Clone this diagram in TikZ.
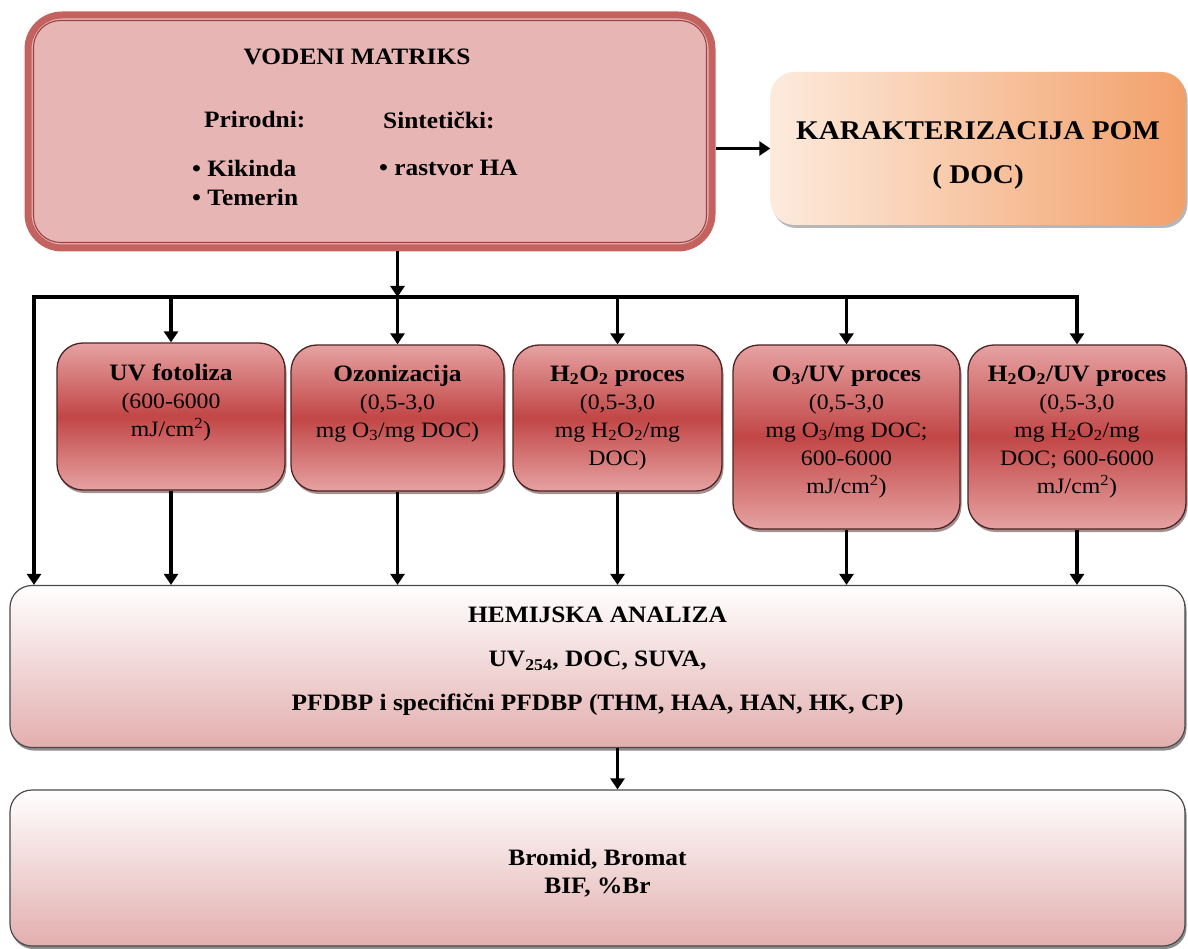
\documentclass[tikz,border=0pt]{standalone}
\usepackage{fontspec}
\setmainfont[FakeStretch=1.08]{Liberation Serif}
\usetikzlibrary{arrows.meta,shadows,calc}

\definecolor{vodfill}{HTML}{E8B5B5}
\definecolor{vodrim}{HTML}{C4625F}
\definecolor{vodline}{HTML}{9A4242}
\definecolor{procdark}{HTML}{C24646}
\definecolor{proclight}{HTML}{E6A2A2}
\definecolor{procedge}{HTML}{4E2424}
\definecolor{anapink}{HTML}{E3AEAE}
\definecolor{anaedge}{HTML}{4A4A4A}
\definecolor{peachL}{HTML}{FDEBDD}
\definecolor{peachR}{HTML}{F2A06A}

\begin{document}
\begin{tikzpicture}[x=1pt,y=-1pt,
  tip/.tip={Triangle[length=11pt,width=14pt]},
  arr/.style={line width=3.6pt,-tip},
  twoarr/.style={line width=3.6pt,tip-tip},
  procbox/.style={draw=procedge,line width=1.3pt,rounded corners=26pt,
    top color=proclight,bottom color=proclight,middle color=procdark,
    drop shadow={shadow xshift=1.5pt,shadow yshift=-3pt,opacity=0.5,fill=procedge}},
  anabox/.style={draw=anaedge,line width=1.2pt,rounded corners=22pt,
    top color=white,bottom color=anapink,
    drop shadow={shadow xshift=1.5pt,shadow yshift=-3pt,opacity=0.45,fill=black}},
  txt/.style={align=center,inner sep=0pt,font=\fontsize{22}{28}\selectfont},
  btxt/.style={align=center,inner sep=0pt,font=\fontsize{23.5}{44}\selectfont\bfseries}
]
\fill[white] (0,0) rectangle (1188,949);
\useasboundingbox (0,0) rectangle (1188,949);

% source water matrix
\node[draw=vodrim,line width=7pt,fill=vodfill,rounded corners=34pt,
      minimum width=684pt,minimum height=233pt] (vod) at (370,131.5) {};
\draw[vodline,line width=1.1pt,rounded corners=27pt]
  ($(vod.south west)+(9,-9)$) rectangle ($(vod.north east)+(-9,9)$);
\node[btxt] (vodt) at (357,57) {VODENI MATRIKS};
\node[btxt,anchor=west] (prir) at (204,120) {Prirodni:};
\node[btxt,anchor=west] (sint) at (383,120) {Sintetički:};
\node[btxt,anchor=west,align=left,font=\fontsize{23.5}{29}\selectfont\bfseries]
  (prirl) at (192,182.5) {• Kikinda\\• Temerin};
\node[btxt,anchor=west] (sintl) at (379,168) {• rastvor HA};

% characterisation box
\node[draw=none,rounded corners=24pt,left color=peachL,right color=peachR,
      minimum width=415pt,minimum height=153pt,
      drop shadow={shadow xshift=2pt,shadow yshift=-3pt,opacity=0.4,fill=black!70}]
  (kar) at (978,148.5) {};
\node[align=center,inner sep=0pt,font=\fontsize{27}{44}\selectfont\bfseries]
  (kart) at (978,155) {KARAKTERIZACIJA POM\\( DOC)};

% treatment processes
\node[procbox,minimum width=228pt,minimum height=147pt] (uv) at (171,416.5) {};
\node[procbox,minimum width=213pt,minimum height=146pt] (ozo) at (397.5,418) {};
\node[procbox,minimum width=209pt,minimum height=146pt] (hp) at (617.5,418) {};
\node[procbox,minimum width=227pt,minimum height=184pt] (ouv) at (846.5,437) {};
\node[procbox,minimum width=218pt,minimum height=184pt] (huv) at (1077,437) {};

\newcommand{\ptitle}[1]{{\fontsize{23.5}{28}\selectfont\bfseries #1}}
\node[txt,anchor=north] (uvt) at ($(uv.north)+(0,21)$)
  {\ptitle{UV fotoliza}\\(600-6000\\mJ/cm\textsuperscript{2})};
\node[txt,anchor=north] (ozot) at ($(ozo.north)+(0,21)$)
  {\ptitle{Ozonizacija}\\(0,5-3,0\\mg O\textsubscript{3}/mg DOC)};
\node[txt,anchor=north] (hpt) at ($(hp.north)+(0,21)$)
  {\ptitle{H\textsubscript{2}O\textsubscript{2} proces}\\(0,5-3,0\\mg H\textsubscript{2}O\textsubscript{2}/mg\\DOC)};
\node[txt,anchor=north] (ouvt) at ($(ouv.north)+(0,21)$)
  {\ptitle{O\textsubscript{3}/UV proces}\\(0,5-3,0\\mg O\textsubscript{3}/mg DOC;\\600-6000\\mJ/cm\textsuperscript{2})};
\node[txt,anchor=north] (huvt) at ($(huv.north)+(0,21)$)
  {\ptitle{H\textsubscript{2}O\textsubscript{2}/UV proces}\\(0,5-3,0\\mg H\textsubscript{2}O\textsubscript{2}/mg\\DOC; 600-6000\\mJ/cm\textsuperscript{2})};

% chemical analysis
\node[anabox,minimum width=1175pt,minimum height=162pt] (hem) at (597.5,666.5) {};
\node[btxt] (hemt) at (597.5,661)
  {HEMIJSKA ANALIZA\\UV\textsubscript{254}, DOC, SUVA,\\PFDBP i specifični PFDBP (THM, HAA, HAN, HK, CP)};

% bromide / bromate
\node[anabox,minimum width=1175pt,minimum height=156pt] (bro) at (597.5,868) {};
\node[btxt,font=\fontsize{23.5}{28}\selectfont\bfseries] (brot) at (597.5,873)
  {Bromid, Bromat\\BIF, \%Br};

% distribution bus: outer ends turn down into the last process and the analysis box
\coordinate (busL) at (34,297);
\coordinate (busR) at (huv.north |- busL);
\draw[twoarr] (huv.north) -- (busR) -- (busL) -- (busL |- hem.north);
\draw[arr] (vod.east |- kar.west) -- (kar.west);
\draw[arr] (ozo.north |- vod.south) -- (ozo.north |- busL);
\foreach \b in {uv,ozo,hp,ouv}{
  \draw[arr] (\b.north |- busL) -- (\b.north);
}
\foreach \b in {uv,ozo,hp,ouv,huv}{
  \draw[arr] (\b.south) -- (\b.south |- hem.north);
}
\draw[arr] (hem.south -| hp.north) -- (bro.north -| hp.north);
\end{tikzpicture}
\end{document}
